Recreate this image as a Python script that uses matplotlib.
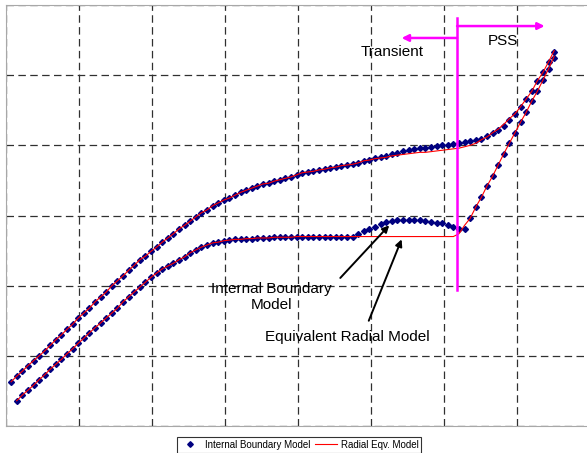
import numpy as np
import matplotlib
matplotlib.use('Agg')
import matplotlib.pyplot as plt

plt.rcParams['font.family'] = ['Liberation Sans', 'DejaVu Sans']

# sample grid (log time, evenly spaced)
t = np.linspace(0.07, 7.51, 98)

# Internal Boundary Model - upper curve (pressure)
ib_p = [0.63, 0.71, 0.78, 0.86, 0.93, 1.00, 1.07, 1.15, 1.23, 1.30,
        1.38, 1.45, 1.54, 1.61, 1.68, 1.77, 1.84, 1.91, 2.00, 2.07,
        2.14, 2.22, 2.29, 2.37, 2.42, 2.49, 2.55, 2.62, 2.68, 2.74,
        2.81, 2.86, 2.92, 2.98, 3.04, 3.08, 3.14, 3.18, 3.22, 3.25,
        3.29, 3.33, 3.36, 3.39, 3.42, 3.45, 3.46, 3.49, 3.51, 3.53,
        3.55, 3.58, 3.61, 3.62, 3.63, 3.65, 3.66, 3.68, 3.69, 3.71,
        3.72, 3.73, 3.75, 3.78, 3.79, 3.82, 3.83, 3.85, 3.88, 3.89,
        3.92, 3.93, 3.95, 3.96, 3.96, 3.98, 3.99, 4.00, 4.00, 4.02,
        4.03, 4.05, 4.06, 4.08, 4.09, 4.13, 4.18, 4.22, 4.28, 4.36,
        4.45, 4.55, 4.66, 4.77, 4.92, 5.04, 5.19, 5.33]

# Internal Boundary Model - lower curve (derivative), first sample missing
ib_d = [np.nan, 0.36, 0.44, 0.51, 0.58, 0.66, 0.73, 0.81, 0.88, 0.95,
        1.03, 1.10, 1.18, 1.25, 1.33, 1.40, 1.47, 1.54, 1.61, 1.68,
        1.77, 1.84, 1.91, 1.98, 2.05, 2.12, 2.18, 2.24, 2.28, 2.32,
        2.37, 2.41, 2.47, 2.51, 2.55, 2.58, 2.61, 2.62, 2.64, 2.65,
        2.66, 2.66, 2.67, 2.67, 2.68, 2.68, 2.68, 2.69, 2.69, 2.69,
        2.69, 2.70, 2.70, 2.70, 2.70, 2.70, 2.70, 2.70, 2.70, 2.70,
        2.70, 2.70, 2.74, 2.78, 2.81, 2.84, 2.88, 2.91, 2.92, 2.94,
        2.94, 2.94, 2.94, 2.93, 2.92, 2.91, 2.90, 2.89, 2.86, 2.84,
        2.81, 2.81, 2.96, 3.12, 3.26, 3.42, 3.56, 3.72, 3.88, 4.03,
        4.18, 4.33, 4.47, 4.63, 4.77, 4.93, 5.09, 5.24]

# Radial Eqv. Model - upper curve
rad_p = [0.63, 0.71, 0.78, 0.86, 0.93, 1.00, 1.07, 1.15, 1.23, 1.30,
         1.38, 1.45, 1.54, 1.61, 1.68, 1.77, 1.84, 1.91, 2.00, 2.07,
         2.14, 2.22, 2.29, 2.37, 2.42, 2.49, 2.55, 2.62, 2.68, 2.74,
         2.81, 2.86, 2.92, 2.98, 3.04, 3.08, 3.14, 3.18, 3.22, 3.25,
         3.29, 3.33, 3.36, 3.39, 3.42, 3.45, 3.46, 3.49, 3.51, 3.53,
         3.55, 3.58, 3.61, 3.62, 3.63, 3.65, 3.66, 3.68, 3.69, 3.71,
         3.72, 3.73, 3.75, 3.78, 3.79, 3.81, 3.82, 3.83, 3.85, 3.86,
         3.87, 3.88, 3.89, 3.90, 3.90, 3.91, 3.92, 3.93, 3.94, 3.95,
         3.96, 3.98, 4.00, 4.03, 4.08, 4.12, 4.18, 4.23, 4.30, 4.38,
         4.45, 4.55, 4.66, 4.77, 4.92, 5.04, 5.19, 5.35]

# Radial Eqv. Model - lower curve
rad_d = [np.nan, 0.36, 0.44, 0.51, 0.58, 0.66, 0.73, 0.81, 0.88, 0.95,
         1.03, 1.10, 1.18, 1.25, 1.33, 1.40, 1.47, 1.54, 1.61, 1.68,
         1.77, 1.84, 1.91, 1.98, 2.05, 2.12, 2.18, 2.24, 2.28, 2.32,
         2.37, 2.41, 2.47, 2.51, 2.55, 2.58, 2.61, 2.62, 2.64, 2.65,
         2.66, 2.66, 2.67, 2.67, 2.68, 2.68, 2.68, 2.69, 2.69, 2.69,
         2.69, 2.70, 2.70, 2.70, 2.70, 2.70, 2.70, 2.70, 2.70, 2.70,
         2.70, 2.70, 2.70, 2.70, 2.70, 2.70, 2.70, 2.70, 2.70, 2.70,
         2.70, 2.70, 2.70, 2.70, 2.70, 2.70, 2.70, 2.70, 2.70, 2.70,
         2.74, 2.86, 2.96, 3.12, 3.26, 3.42, 3.56, 3.72, 3.88, 4.03,
         4.18, 4.33, 4.47, 4.63, 4.77, 4.93, 5.09, 5.27]

t_switch = 6.18  # transient / PSS boundary

fig = plt.figure(figsize=(5.87, 4.53), dpi=100)
ax = fig.add_axes([6/587, 27/453, 581/587, 421/453])

ax.plot(t, ib_p, 'D', color='#000080', markersize=3.0, label='Internal Boundary Model')
ax.plot(t, ib_d, 'D', color='#000080', markersize=3.0)
ax.plot(t, rad_p, '-', color='red', lw=0.8, label='Radial Eqv. Model')
ax.plot(t, rad_d, '-', color='red', lw=0.8)

ax.set_xlim(0, 7.96)
ax.set_ylim(0, 6)
ax.set_xticks(range(0, 8))
ax.set_yticks(range(0, 7))
ax.set_xticklabels([])
ax.set_yticklabels([])
ax.tick_params(length=0)
ax.grid(True, color='#303030', linestyle=(0, (6, 3.5)), lw=0.9)
for s in ['left', 'top', 'bottom']:
    ax.spines[s].set_color('#a8a8a8')
ax.spines['right'].set_visible(False)

# transient / PSS marker
ax.plot([t_switch, t_switch], [1.94, 5.81], color='magenta', lw=1.8)
ax.annotate('', xy=(5.42, 5.53), xytext=(t_switch, 5.53),
            arrowprops=dict(arrowstyle='-|>', color='magenta', lw=1.8,
                            mutation_scale=10, shrinkA=0, shrinkB=0))
ax.annotate('', xy=(7.38, 5.70), xytext=(t_switch, 5.70),
            arrowprops=dict(arrowstyle='-|>', color='magenta', lw=1.8,
                            mutation_scale=10, shrinkA=0, shrinkB=0))
ax.text(5.29, 5.33, 'Transient', fontsize=11, ha='center', va='center')
ax.text(6.81, 5.49, 'PSS', fontsize=11, ha='center', va='center')

# model labels
ax.text(3.64, 1.84, 'Internal Boundary\nModel', fontsize=11, ha='center', va='center')
ax.annotate('', xy=(5.25, 2.86), xytext=(4.58, 2.11),
            arrowprops=dict(arrowstyle='-|>', color='black', lw=1.4,
                            mutation_scale=10, shrinkA=0, shrinkB=0))
ax.text(4.67, 1.27, 'Equivalent Radial Model', fontsize=11, ha='center', va='center')
ax.annotate('', xy=(5.42, 2.66), xytext=(4.97, 1.50),
            arrowprops=dict(arrowstyle='-|>', color='black', lw=1.4,
                            mutation_scale=10, shrinkA=0, shrinkB=0))

leg = fig.legend(loc='upper center', bbox_to_anchor=(299/587, 1 - 432/453), ncol=2,
                 fontsize=7, frameon=True, fancybox=False, edgecolor='black',
                 handlelength=2.2, borderpad=0.3, columnspacing=0.5, handletextpad=0.4,
                 markerscale=0.95)
leg.get_frame().set_linewidth(0.8)

fig.savefig('out.png', dpi=100)
